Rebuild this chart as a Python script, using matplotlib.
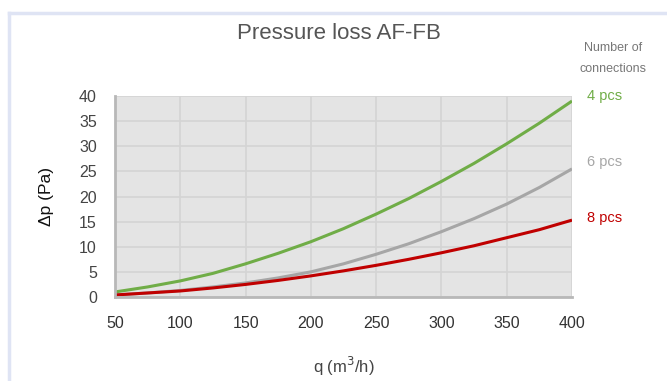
import matplotlib.pyplot as plt
from matplotlib.lines import Line2D

plt.rcParams['font.family'] = ['Liberation Sans', 'DejaVu Sans']

# flow rate (m3/h)
q = [50, 75, 100, 125, 150, 175, 200, 225, 250, 275, 300, 325, 350, 375, 400]
# pressure loss (Pa) per number of connections
dp_4 = [1.0, 2.0, 3.2, 4.7, 6.6, 8.7, 11.0, 13.6, 16.5, 19.6, 23.0, 26.6, 30.5, 34.6, 39.0]
dp_6 = [0.4, 0.8, 1.3, 2.0, 2.8, 3.8, 5.0, 6.6, 8.5, 10.6, 13.0, 15.6, 18.5, 21.8, 25.5]
dp_8 = [0.4, 0.8, 1.2, 1.8, 2.5, 3.3, 4.2, 5.2, 6.3, 7.5, 8.8, 10.2, 11.8, 13.4, 15.3]
labels = ['4 pcs', '6 pcs', '8 pcs']
colors = ['#70ad47', '#a6a6a6', '#c00000']

fig = plt.figure(figsize=(6.67, 3.81), dpi=100)
ax = fig.add_axes([0.1724, 0.2205, 0.6852, 0.5275])
ax.set_facecolor('#e4e4e4')

for y, c in zip([dp_4, dp_6, dp_8], colors):
    ax.plot(q, y, color=c, lw=2.2, solid_capstyle='butt', solid_joinstyle='round')

ax.set_xlim(50, 400)
ax.set_ylim(0, 40)
ax.set_xticks(range(50, 401, 50))
ax.set_yticks(range(0, 41, 5))
ax.grid(True, color='#d4d4d4', lw=1.2)
ax.set_axisbelow(True)
for s in ['top', 'right']:
    ax.spines[s].set_visible(False)
for s in ['left', 'bottom']:
    ax.spines[s].set_color('#b8b8b8')
    ax.spines[s].set_linewidth(2)
ax.tick_params(length=0, labelsize=11.5, colors='#444444')
ax.tick_params(axis='x', pad=14, colors='#333333')
ax.tick_params(axis='y', pad=13)

ax.set_ylabel('Δp (Pa)', fontsize=12.5, color='#111111', labelpad=18)
ax.set_xlabel('q (m$^3$/h)', fontsize=12, color='#444444', labelpad=17)

fig.text(0.508, 0.912, 'Pressure loss AF-FB', ha='center', va='center',
         fontsize=16, color='#555555')
fig.text(0.919, 0.875, 'Number of', ha='center', va='center', fontsize=9, color='#777777')
fig.text(0.919, 0.818, 'connections', ha='center', va='center', fontsize=9, color='#777777')

label_y = [0.748, 0.575, 0.428]
for lab, c, yy in zip(labels, colors, label_y):
    fig.text(0.907, yy, lab, ha='center', va='center', fontsize=10.5, color=c)

# light frame at the top and left
fig.add_artist(Line2D([0.0135, 0.0135], [0, 0.965], transform=fig.transFigure,
                      color='#dfe4f4', lw=2.5))
fig.add_artist(Line2D([0.0135, 1.0], [0.965, 0.965], transform=fig.transFigure,
                      color='#dfe4f4', lw=2.5))

fig.savefig('out.png', dpi=100)
